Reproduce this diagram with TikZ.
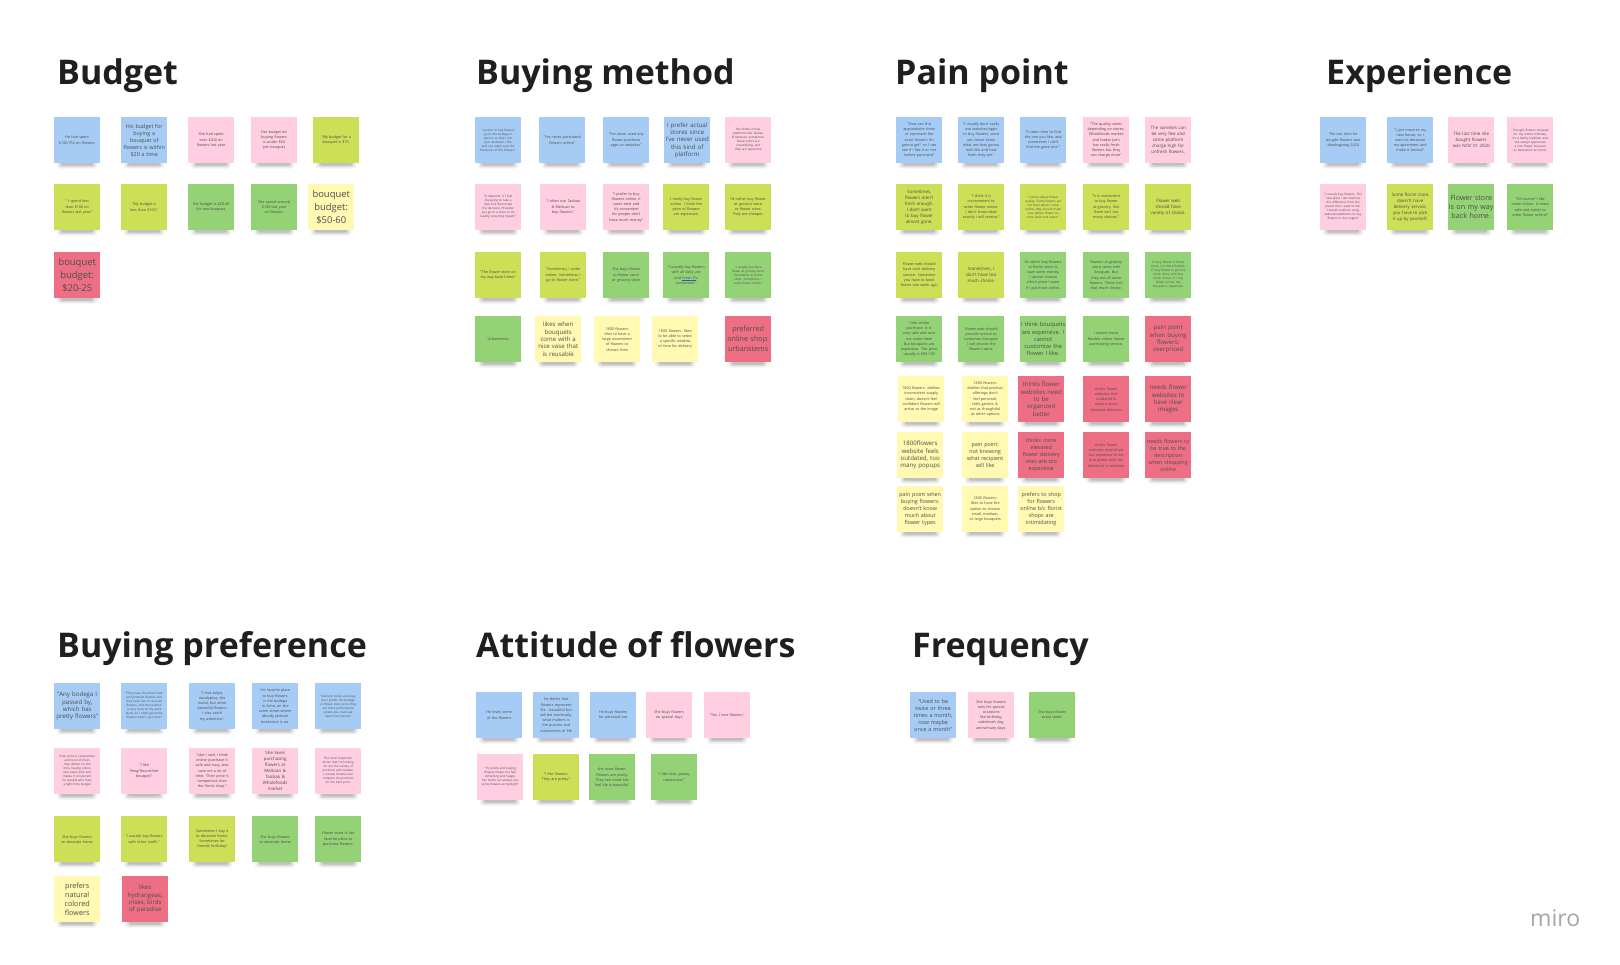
\documentclass[tikz,border=0pt]{standalone}
\usepackage{fontspec}
\setmainfont{Open Sans}
\definecolor{nblue}{HTML}{A6CCF5}
\definecolor{npink}{HTML}{FFCEE0}
\definecolor{nlime}{HTML}{CDDF56}
\definecolor{ngreen}{HTML}{93D275}
\definecolor{nyellow}{HTML}{FFF9B1}
\definecolor{nred}{HTML}{EE6F83}
\definecolor{ntext}{HTML}{4D4D4D}
\definecolor{ttext}{HTML}{1F1F1F}
\definecolor{linkblue}{HTML}{2A5DB0}
\newcommand\stickynote[6]{%
  \fill[black,opacity=.06,rounded corners=3pt] (#2+3,#3+37) rectangle (#2+43,#3+51.5);
  \fill[black,opacity=.09,rounded corners=2pt] (#2+5,#3+40) rectangle (#2+41,#3+50);
  \fill[black,opacity=.12,rounded corners=1.5pt] (#2+7,#3+42) rectangle (#2+39,#3+48.5);
  \node[stickybox,fill=#4,#5] (#1) at (#2,#3) {#6};}
\begin{document}
\hyphenpenalty=10000
\exhyphenpenalty=10000
\begin{tikzpicture}[x=1pt,y=-1pt,
  stickybox/.style={anchor=north west,minimum width=46pt,minimum height=46pt,inner sep=0pt,
    text width=38pt,align=center,text=ntext},
  fa/.style={font=\fontsize{3.0}{4.0}\selectfont},
  fb/.style={font=\fontsize{3.7}{5.2}\selectfont},
  fc/.style={font=\fontsize{4.4}{6.0}\selectfont},
  fd/.style={font=\fontsize{5.4}{7.0}\selectfont,text width=46pt},
  fe/.style={font=\fontsize{6.1}{7.4}\selectfont,text width=46pt},
  fe2/.style={font=\fontsize{5.7}{7.2}\selectfont,text width=46pt},
  ff/.style={font=\fontsize{7.2}{9.0}\selectfont,text width=46pt},
  fg/.style={font=\fontsize{7.2}{10.0}\selectfont,text width=46pt},
  fh/.style={font=\fontsize{9.4}{13.2}\selectfont,text width=44pt},
  title/.style={anchor=base west,inner sep=0pt,font=\bfseries\fontsize{34}{40}\selectfont,text=ttext}]
\useasboundingbox (0,0) rectangle (1620,964);
\fill[white] (0,0) rectangle (1620,964);

% ---------- titles ----------
\node[title] (t1) at (57,84) {Budget};
\node[title] (t2) at (476,84) {Buying method};
\node[title] (t3) at (895,84) {Pain point};
\node[title] (t4) at (1326,84) {Experience};
\node[title] (t5) at (57,657) {Buying preference};
\node[title] (t6) at (476,657) {Attitude of flowers};
\node[title] (t7) at (912,657) {Frequency};

% ---------- Budget ----------
\stickynote{b1}{54}{117}{nblue}{fb}{He had spent \$740-750 on flowers.}
\stickynote{b2}{121}{117}{nblue}{fd}{His budget for\\ buying a\\ bouquet of\\ flowers is within\\ \$20 a time}
\stickynote{b3}{188}{117}{npink}{fb}{She had spent over \$200 on flowers last year}
\stickynote{b4}{251}{117}{npink}{fb}{Her budget for buying flowers is under \$60 per bouquet}
\stickynote{b5}{313}{117}{nlime}{fb}{"My budget for a bouquet is \$75.}
\stickynote{b6}{54}{184}{nlime}{fb}{" I spend less than \$100 on flowers last year."}
\stickynote{b7}{121}{184}{nlime}{fb}{"My budget is less than \$100."}
\stickynote{b8}{188}{184}{ngreen}{fb}{Her budget is \$20-40 for one bouquet.}
\stickynote{b9}{251}{184}{ngreen}{fb}{She spend around \$100 last year on flowers.}
\stickynote{b10}{308}{184}{nyellow}{fh}{bouquet budget: \$50-60}
\stickynote{b11}{54}{252}{nred}{fh}{bouquet budget: \$20-25}

% ---------- Buying method ----------
\stickynote{m1}{475}{117}{nblue}{fa}{"I prefer to buy flowers go to the bodega in person so that I can pick whatever I like and can make sure the freshness of the flowers."}
\stickynote{m2}{539}{117}{nblue}{fb}{"I've never purchased flowers online"}
\stickynote{m3}{603}{117}{nblue}{fb}{"I've never used any flower purchase apps or websites"}
\stickynote{m4}{664}{117}{nblue}{fe}{I prefer actual\\ stores since\\ I've never used\\ this kind of\\ platform}
\stickynote{m5}{725}{117}{npink}{fa}{She thinks online platforms like Taobao \& Meituan, sometimes flower parts are unsatisfying, and they are expensive}
\stickynote{m6}{475}{184}{npink}{fa}{"It depends. If I feel like going to take a look and then make the decision, I'd better just go to a store to do quality screening myself."}
\stickynote{m7}{540}{184}{npink}{fb}{"I often use Taobao \& Meituan to buy flowers."}
\stickynote{m8}{603}{184}{npink}{fb}{"I prefer to buy flowers online, it saves time and it's convenient for people don't have much money"}
\stickynote{m9}{663}{184}{nlime}{fb}{I rarely buy flower online. I think the price of flowers are expensive.}
\stickynote{m10}{725}{184}{nlime}{fb}{I'd rather buy flower at grocery store or flower store. They are cheaper.}
\stickynote{m11}{475}{252}{nlime}{fb}{"The flower store on my way back home"}
\stickynote{m12}{540}{252}{nlime}{fb}{"Sometimes, I order online. Sometimes I go to flower store."}
\stickynote{m13}{603}{252}{ngreen}{fb}{She buys flower at flower store or grocery store}
\stickynote{m14}{663}{252}{ngreen}{fb}{"I usually buy flowers with all daily use and \textcolor{linkblue}{\underline{Fresh D}}'s convenient."}
\stickynote{m15}{725}{252}{ngreen}{fa}{"I usually purchase flower at grocery store. Sometimes at florist shop. Sometimes, I order flower online."}
\stickynote{m16}{475}{316}{ngreen}{fb}{Urbanstems}
\stickynote{m17}{535}{316}{nyellow}{fe}{likes when\\ bouquets\\ come with a\\ nice vase that\\ is reusable}
\stickynote{m18}{594}{316}{nyellow}{fb}{1800 flowers: likes to have a large assortment of flowers to choose from}
\stickynote{m19}{652}{316}{nyellow}{fb}{1800 flowers: likes to be able to select a specific window of time for delivery}
\stickynote{m20}{725}{316}{nred}{fg}{preferred\\ online shop:\\ urbanstems}

% ---------- Pain point ----------
\stickynote{p1}{896}{117}{nblue}{fb}{"How can the app/website show or represent the exact flowers I'm gonna get? so I can see if I like it or not before purchase"}
\stickynote{p2}{958}{117}{nblue}{fb}{"I usually don't really use websites/apps to buy flowers, since you never know what are they gonna look like and how fresh they are."}
\stickynote{p3}{1020}{117}{nblue}{fb}{"It takes time to find the one you like, and sometimes I can't find the good one."}
\stickynote{p4}{1083}{117}{npink}{fb}{"The quality varies depending on stores. Wholefoods market and trader joe's has really fresh flowers but they can charge more"}
\stickynote{p5}{1145}{117}{npink}{fc}{The varieties can be very few and some platform charge high for unfresh flowers.}
\stickynote{p6}{896}{184}{nlime}{fc}{Sometimes, flowers aren't fresh enough. I don't want to buy flower almost gone.}
\stickynote{p7}{958}{184}{nlime}{fb}{"I think it is inconvenient to order flower online. I don't know what exactly I will receive."}
\stickynote{p8}{1020}{184}{nlime}{fa}{"I worry about flower quality. Some flowers are not fresh when I order online, they should make sure deliver flower on time fresh and intact."}
\stickynote{p9}{1083}{184}{nlime}{fb}{"It is convenient to buy flower at grocery. But there isn't too many choices."}
\stickynote{p10}{1145}{184}{nlime}{fc}{Flower web should have variety of choice.}
\stickynote{p11}{896}{252}{nlime}{fb}{Flower web should have rush delivery service. Sometime you have to book flower one week ago.}
\stickynote{p12}{958}{252}{nlime}{fc}{Sometimes, I don't have too much choice.}
\stickynote{p13}{1020}{252}{ngreen}{fb}{I'd rather buy flowers at florist store to save some money. I cannot choose which piece I want if I purchase online.}
\stickynote{p14}{1083}{252}{ngreen}{fb}{Flowers at grocery store come with bouquet. But they are all same flowers. There isn't that much choice.}
\stickynote{p15}{1145}{252}{ngreen}{fa}{If I buy flower in florist store, it is more flexible. If I buy flower in grocery store, there isn't that much choice. If I buy flower online, the bouquet is expensive.}
\stickynote{p16}{896}{316}{ngreen}{fb}{I like online purchase. It is very safe and save me some time! But bouquets are expensive. The price usually is \$80-100}
\stickynote{p17}{958}{316}{ngreen}{fb}{Flower web should provide service to customize bouquet. I can choose the flower I want.}
\stickynote{p18}{1020}{316}{ngreen}{fe2}{I think bouquets\\ are expensive. I\\ cannot\\ customize the\\ flower I like.}
\stickynote{p19}{1083}{316}{ngreen}{fb}{I expect more flexible online flower purchasing service.}
\stickynote{p20}{1145}{316}{nred}{fe}{pain point\\ when buying\\ flowers:\\ overpriced}
\stickynote{p21}{898}{376}{nyellow}{fb}{1800 flowers: dislikes inconsistent supply chain; doesn't feel confident flowers will arrive as the image}
\stickynote{p22}{962}{376}{nyellow}{fb}{1800 flowers: dislikes that product offerings don't feel personal; feels generic \& not as thoughtful as other options}
\stickynote{p23}{1018}{376}{nred}{fe}{thinks flower\\ websites need\\ to be\\ organized\\ better}
\stickynote{p24}{1083}{376}{nred}{fb}{thinks flower websites feel outdated \& need a more elevated selection}
\stickynote{p25}{1145}{376}{nred}{fe}{needs flower\\ websites to\\ have clear\\ images}
\stickynote{p26}{897}{432}{nyellow}{fe}{1800flowers\\ website feels\\ outdated, too\\ many popups}
\stickynote{p27}{962}{432}{nyellow}{fd}{pain point:\\ not knowing\\ what recipient\\ will like}
\stickynote{p28}{1018}{432}{nred}{fd}{thinks more\\ elevated\\ flower delivery\\ sites are too\\ expensive}
\stickynote{p29}{1083}{432}{nred}{fb}{thinks flower websites overall are too expensive \& not that pretty with too limited of a selection}
\stickynote{p30}{1145}{432}{nred}{fd}{needs flowers to\\ be true to the\\ description\\ when shopping\\ online}
\stickynote{p31}{897}{486}{nyellow}{fd}{pain point when\\ buying flowers:\\ doesn't know\\ much about\\ flower types}
\stickynote{p32}{962}{486}{nyellow}{fb}{1800 flowers: likes to have the option to choose small, medium, or large bouquets}
\stickynote{p33}{1018}{486}{nyellow}{fd}{prefers to shop\\ for flowers\\ online b/c florist\\ shops are\\ intimidating}

% ---------- Experience ----------
\stickynote{e1}{1320}{117}{nblue}{fb}{The last time he bought flowers was thanksgiving 2020}
\stickynote{e2}{1387}{117}{nblue}{fb}{"I just move to my new house, so I want to decorate my apartment and make it festival"}
\stickynote{e3}{1448}{117}{npink}{fc}{The last time she bought flowers was NOV 01 2020}
\stickynote{e4}{1507}{117}{npink}{fa}{"I bought flowers bouquet for my mom's birthday. It's a family tradition and she always appreciate a nice flower bouquet as decoration at home"}
\stickynote{e5}{1320}{184}{npink}{fa}{"I usually buy flowers. The new place I am now has the difference from the places that I used to live. I would continue using websites/platforms to buy flowers in that region"}
\stickynote{e6}{1387}{184}{nlime}{fc}{Some florist store doesn't have delivery service, you have to pick it up by yourself.}
\stickynote{e7}{1448}{184}{ngreen}{ff}{Flower store\\ is on my way\\ back home.}
\stickynote{e8}{1507}{184}{ngreen}{fb}{"Of course! I like order online. It more safe and easier to order flower online!"}

% ---------- Buying preference ----------
\stickynote{f1}{54}{683}{nblue}{fe}{"Any bodega I\\ passed by,\\ which has\\ pretty flowers"}
\stickynote{f2}{121}{683}{nblue}{fa}{"They have the most fresh and prettiest flowers and they have lots of unusual flowers, and the location is very close to my work place, so I often get some flowers when I go home"}
\stickynote{f3}{189}{683}{nblue}{fb}{"I love tulips, eucalyptus, the mood, but other beautiful flowers I also catch my attention."}
\stickynote{f4}{252}{683}{nblue}{fb}{His favorite place to buy flowers is the bodega in Soho, on the same street where Moody Jackson bookstore is on.}
\stickynote{f5}{315}{683}{nblue}{fa}{"Grocery stores are okay, but I prefer the bodega or flower store since they are more professional where you could ask exact instructions"}
\stickynote{f6}{54}{748}{npink}{fa}{Even price is competitive and most of them may deliver on the time, buying online also saves time and makes it convenient for people who have a tight time budget}
\stickynote{f7}{121}{748}{npink}{fb}{"I like Peng/Round-feel bouquet"}
\stickynote{f8}{189}{748}{npink}{fb}{"Like I said, I think online purchase is safe and easy, also save me a lot of time. Their price is competitive than the florist shop."}
\stickynote{f9}{252}{748}{npink}{fc}{She loves purchasing flowers at Meituan \& Taobao \& Wholefoods market}
\stickynote{f10}{315}{748}{npink}{fa}{The most important factor that I'm looking for are the variety of products and reviews. I usually browse and compare the products for the best price.}
\stickynote{f11}{54}{816}{nlime}{fb}{She buys flowers to decorate home}
\stickynote{f12}{121}{816}{nlime}{fb}{"I usually buy flowers with other stuffs."}
\stickynote{f13}{189}{816}{nlime}{fb}{Sometimes I buy it to decorate home. Sometimes for friends' birthday!}
\stickynote{f14}{252}{816}{ngreen}{fb}{She buys flowers to decorate home}
\stickynote{f15}{315}{816}{ngreen}{fb}{Flower store is her favorite place to purchase flowers.}
\stickynote{f16}{54}{876}{nyellow}{ff}{prefers\\ natural\\ colored\\ flowers}
\stickynote{f17}{122}{876}{nred}{fe}{likes\\ hydrangeas,\\ irises, birds\\ of paradise}

% ---------- Attitude of flowers ----------
\stickynote{a1}{476}{692}{nblue}{fb}{He loves some of the flowers}
\stickynote{a2}{533}{692}{nblue}{fb}{He thinks that flowers represent life - beautiful but will die eventually, what matters is the process and interactions of life}
\stickynote{a3}{590}{692}{nblue}{fb}{He buys flowers for personal use}
\stickynote{a4}{646}{692}{npink}{fb}{She buys flowers on special days}
\stickynote{a5}{704}{692}{npink}{fb}{"Yes, I love flowers."}
\stickynote{a6}{477}{754}{npink}{fa}{"It's pretty and buying flowers makes me feel refreshing and happy. her home can always use some flowers as highlight"}
\stickynote{a7}{533}{754}{nlime}{fb}{"I like flowers. They are pretty."}
\stickynote{a8}{589}{754}{ngreen}{fb}{she loves flower. Flowers are pretty. They can make her feel life is beautiful.}
\stickynote{a9}{651}{754}{ngreen}{fb}{"I like rose, peony, ranunculus."}

% ---------- Frequency ----------
\stickynote{q1}{910}{692}{nblue}{fd}{"Used to be\\ twice or three\\ times a month,\\ now maybe\\ once a month"}
\stickynote{q2}{968}{692}{npink}{fb}{She buys flowers only for special occasions like birthday, valentine's day, anniversary days.}
\stickynote{q3}{1029}{692}{ngreen}{fb}{She buys flower every week.}

% ---------- logo ----------
\node[anchor=base west,inner sep=0pt,text=black!35,font=\fontsize{23}{26}\selectfont] (logo) at (1530,926) {miro};
\end{tikzpicture}
\end{document}
